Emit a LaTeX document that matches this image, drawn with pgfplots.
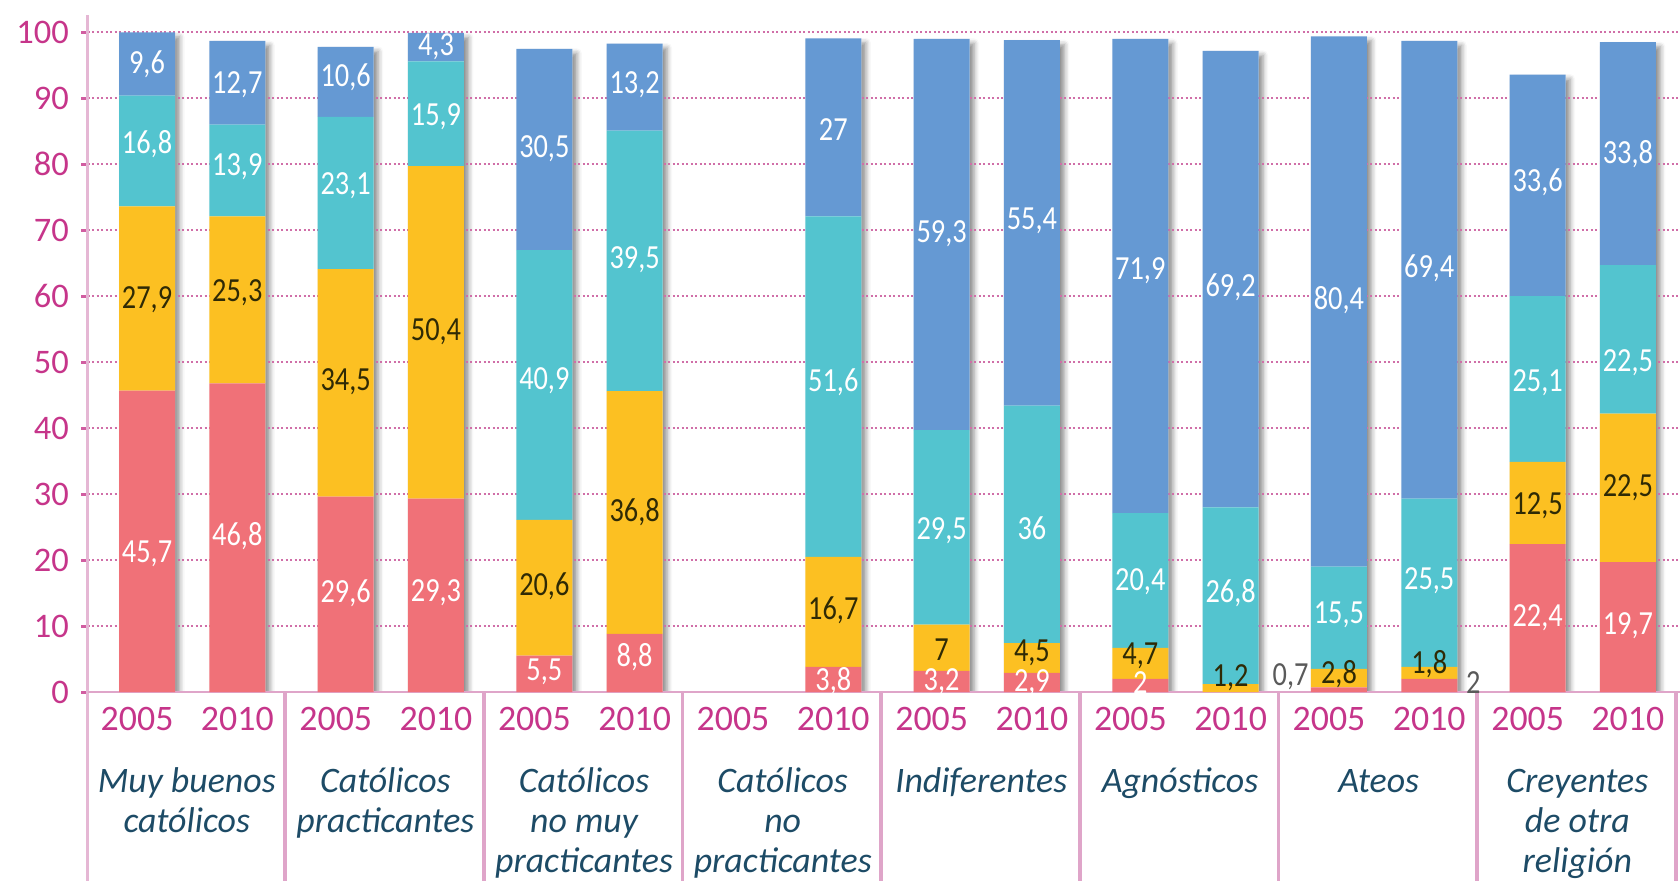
\documentclass[border=0pt]{standalone}
\usepackage{fontspec}
\setmainfont{Carlito}
\newfontfamily\valfont[FakeStretch=0.84]{Carlito}
\usepackage{pgfplots}
\pgfplotsset{compat=1.18}
\usepackage{pgfplotstable}
\usetikzlibrary{shadows.blur}

\definecolor{cRed}{HTML}{F07178}
\definecolor{cYel}{HTML}{FCC022}
\definecolor{cTeal}{HTML}{53C4CF}
\definecolor{cBlue}{HTML}{6599D3}
\definecolor{cMag}{HTML}{C6358A}
\definecolor{cAxis}{HTML}{DFA5C9}
\definecolor{cGrid}{HTML}{D06FA8}
\definecolor{cCat}{HTML}{1D4B66}
\definecolor{cDark}{HTML}{2F2A05}
\definecolor{cGrey}{HTML}{5A5A5A}

\pgfplotstableread{
x    red  yel  teal blue
0    45.7 27.9 16.8 9.6
1    46.8 25.3 13.9 12.7
2.2  29.6 34.5 23.1 10.6
3.2  29.3 50.4 15.9 4.3
4.4  5.5  20.6 40.9 30.5
5.4  8.8  36.8 39.5 13.2
6.6  0    0    0    0
7.6  3.8  16.7 51.6 27
8.8  3.2  7    29.5 59.3
9.8  2.9  4.5  36   55.4
11.0 2    4.7  20.4 71.9
12.0 0    1.2  26.8 69.2
13.2 0.7  2.8  15.5 80.4
14.2 2    1.8  25.5 69.4
15.4 22.4 12.5 25.1 33.6
16.4 19.7 22.5 22.5 33.8
}\data

\pgfplotstableread{
x    tot
0    100
1    98.7
2.2  97.8
3.2  99.9
4.4  97.5
5.4  98.3
7.6  99.1
8.8  99.0
9.8  98.8
11.0 99.0
12.0 97.2
13.2 99.4
14.2 98.7
15.4 93.6
16.4 98.5
}\totals

\pgfplotsset{base/.style={
  scale only axis, width=159.23mm, height=69.2mm,
  xmin=-0.657, xmax=16.977, ymin=0, ymax=104.9,
  at={(0,0)}, anchor=south west,
}}

\tikzset{
  wl/.style={text=white, font=\fontsize{9.6}{10}\valfont, inner sep=0pt},
  dl/.style={text=cDark, font=\fontsize{9.6}{10}\valfont, inner sep=0pt},
  gl/.style={text=cGrey, font=\fontsize{9.6}{10}\valfont, inner sep=0pt},
  yl/.style={text=cMag, font=\fontsize{10.2}{11}\selectfont, inner sep=0pt, anchor=base},
  cl/.style={text=cCat, font=\fontsize{10.2}{11}\selectfont\itshape, inner sep=0pt, anchor=base},
}

\begin{document}
\begin{tikzpicture}
% shadows
\begin{axis}[base, hide axis, ybar, bar width=5.6mm]
\addplot[fill=white, draw=none, blur shadow={shadow xshift=0.45mm, shadow yshift=-0.45mm, shadow blur radius=0.5mm, shadow opacity=45}] table[x=x,y=tot]{\totals};
\end{axis}
% main
\begin{axis}[base, ybar stacked, bar width=5.6mm, clip=false,
  axis line style={draw=none},
  xtick=\empty,
  ytick={0,10,...,100},
  ytick pos=left,
  tick align=outside,
  major tick length=0.65mm,
  tick style={cMag!80, line width=0.3mm},
  ymajorgrids,
  grid style={cGrid, line width=0.22mm, dash pattern=on 0.2mm off 0.25mm},
  yticklabel style={text=cMag, font=\fontsize{9.8}{10}\selectfont},
  /pgf/number format/assume math mode=true,
]
\addplot[fill=cRed, draw=none] table[x=x,y=red]{\data};
\addplot[fill=cYel, draw=none] table[x=x,y=yel]{\data};
\addplot[fill=cTeal, draw=none] table[x=x,y=teal]{\data};
\addplot[fill=cBlue, draw=none] table[x=x,y=blue]{\data};

% axis lines and separators
\draw[cAxis, line width=0.25mm] (axis cs:-0.657,0) -- (axis cs:16.977,0);
\draw[cAxis!80, line width=0.3mm] (axis cs:-0.657,102.6) -- (axis cs:-0.657,-28.6);
\draw[cAxis, line width=0.35mm] (axis cs:1.53,0) -- (axis cs:1.53,-28.6);
\draw[cAxis, line width=0.35mm] (axis cs:3.73,0) -- (axis cs:3.73,-28.6);
\draw[cAxis, line width=0.35mm] (axis cs:5.93,0) -- (axis cs:5.93,-28.6);
\draw[cAxis, line width=0.35mm] (axis cs:8.13,0) -- (axis cs:8.13,-28.6);
\draw[cAxis, line width=0.35mm] (axis cs:10.33,0) -- (axis cs:10.33,-28.6);
\draw[cAxis, line width=0.35mm] (axis cs:12.53,0) -- (axis cs:12.53,-28.6);
\draw[cAxis, line width=0.35mm] (axis cs:14.73,0) -- (axis cs:14.73,-28.6);
\draw[cAxis, line width=0.35mm] (axis cs:16.93,0) -- (axis cs:16.93,-28.6);

% year labels
\node[yl] at (axis cs:-0.11,-5.76) {2005}; \node[yl] at (axis cs:1,-5.76) {2010};
\node[yl] at (axis cs:2.09,-5.76) {2005}; \node[yl] at (axis cs:3.2,-5.76) {2010};
\node[yl] at (axis cs:4.29,-5.76) {2005}; \node[yl] at (axis cs:5.4,-5.76) {2010};
\node[yl] at (axis cs:6.49,-5.76) {2005}; \node[yl] at (axis cs:7.6,-5.76) {2010};
\node[yl] at (axis cs:8.69,-5.76) {2005}; \node[yl] at (axis cs:9.8,-5.76) {2010};
\node[yl] at (axis cs:10.89,-5.76) {2005}; \node[yl] at (axis cs:12.0,-5.76) {2010};
\node[yl] at (axis cs:13.09,-5.76) {2005}; \node[yl] at (axis cs:14.2,-5.76) {2010};
\node[yl] at (axis cs:15.29,-5.76) {2005}; \node[yl] at (axis cs:16.4,-5.76) {2010};

% category labels
\node[cl] at (axis cs:0.44,-15.3) {Muy buenos};
\node[cl] at (axis cs:0.44,-21.3) {católicos};
\node[cl] at (axis cs:2.64,-15.3) {Católicos};
\node[cl] at (axis cs:2.64,-21.3) {practicantes};
\node[cl] at (axis cs:4.84,-15.3) {Católicos};
\node[cl] at (axis cs:4.84,-21.3) {no muy};
\node[cl] at (axis cs:4.84,-27.3) {practicantes};
\node[cl] at (axis cs:7.04,-15.3) {Católicos};
\node[cl] at (axis cs:7.04,-21.3) {no};
\node[cl] at (axis cs:7.04,-27.3) {practicantes};
\node[cl] at (axis cs:9.24,-15.3) {Indiferentes};
\node[cl] at (axis cs:11.44,-15.3) {Agnósticos};
\node[cl] at (axis cs:13.64,-15.3) {Ateos};
\node[cl] at (axis cs:15.84,-15.3) {Creyentes};
\node[cl] at (axis cs:15.84,-21.3) {de otra};
\node[cl] at (axis cs:15.84,-27.3) {religión};
\end{axis}
% value labels on top
\begin{axis}[base, hide axis, clip=false]
\node[wl] at (axis cs:0,95.2) {9,6};
\node[wl] at (axis cs:0,83.1) {16,8};
\node[dl] at (axis cs:0,59.5) {27,9};
\node[wl] at (axis cs:0,21.0) {45,7};

\node[wl] at (axis cs:1,92.0) {12,7};
\node[wl] at (axis cs:1,79.6) {13,9};
\node[dl] at (axis cs:1,60.6) {25,3};
\node[wl] at (axis cs:1,23.7) {46,8};

\node[wl] at (axis cs:2.2,93.2) {10,6};
\node[wl] at (axis cs:2.2,76.8) {23,1};
\node[dl] at (axis cs:2.2,47.0) {34,5};
\node[wl] at (axis cs:2.2,15.0) {29,6};

\node[wl] at (axis cs:3.2,97.8) {4,3};
\node[wl] at (axis cs:3.2,87.2) {15,9};
\node[dl] at (axis cs:3.2,54.6) {50,4};
\node[wl] at (axis cs:3.2,15.0) {29,3};

\node[wl] at (axis cs:4.4,82.3) {30,5};
\node[wl] at (axis cs:4.4,47.2) {40,9};
\node[dl] at (axis cs:4.4,16.0) {20,6};
\node[wl] at (axis cs:4.4,3.0) {5,5};

\node[wl] at (axis cs:5.4,92.0) {13,2};
\node[wl] at (axis cs:5.4,65.5) {39,5};
\node[dl] at (axis cs:5.4,27.3) {36,8};
\node[wl] at (axis cs:5.4,5.35) {8,8};

\node[wl] at (axis cs:7.6,85.2) {27};
\node[wl] at (axis cs:7.6,47.0) {51,6};
\node[dl] at (axis cs:7.6,12.4) {16,7};
\node[wl] at (axis cs:7.6,1.7) {3,8};

\node[wl] at (axis cs:8.8,69.5) {59,3};
\node[wl] at (axis cs:8.8,24.4) {29,5};
\node[dl] at (axis cs:8.8,6.4) {7};
\node[wl] at (axis cs:8.8,1.6) {3,2};

\node[wl] at (axis cs:9.8,71.5) {55,4};
\node[wl] at (axis cs:9.8,24.9) {36};
\node[dl] at (axis cs:9.8,6.0) {4,5};
\node[wl] at (axis cs:9.8,1.4) {2,9};

\node[wl] at (axis cs:11.0,63.9) {71,9};
\node[wl] at (axis cs:11.0,16.7) {20,4};
\node[dl] at (axis cs:11.0,5.5) {4,7};
\node[wl] at (axis cs:11.0,1.4) {2};

\node[wl] at (axis cs:12.0,61.4) {69,2};
\node[wl] at (axis cs:12.0,15.0) {26,8};
\node[dl] at (axis cs:12.0,2.2) {1,2};

\node[wl] at (axis cs:13.2,59.4) {80,4};
\node[wl] at (axis cs:13.2,11.7) {15,5};
\node[dl] at (axis cs:13.2,2.7) {2,8};
\node[gl, anchor=east] at (axis cs:12.87,2.3) {0,7};

\node[wl] at (axis cs:14.2,64.2) {69,4};
\node[wl] at (axis cs:14.2,16.8) {25,5};
\node[dl] at (axis cs:14.2,4.2) {1,8};
\node[gl, anchor=west] at (axis cs:14.6,1.5) {2};

\node[wl] at (axis cs:15.4,77.2) {33,6};
\node[wl] at (axis cs:15.4,46.9) {25,1};
\node[dl] at (axis cs:15.4,28.3) {12,5};
\node[wl] at (axis cs:15.4,11.2) {22,4};

\node[wl] at (axis cs:16.4,81.5) {33,8};
\node[wl] at (axis cs:16.4,49.9) {22,5};
\node[dl] at (axis cs:16.4,31.0) {22,5};
\node[wl] at (axis cs:16.4,10.0) {19,7};
\end{axis}
\pgfresetboundingbox
\path[use as bounding box] (-8.77mm,-18.8mm) rectangle (159.23mm,69.2mm);
\end{tikzpicture}
\end{document}
